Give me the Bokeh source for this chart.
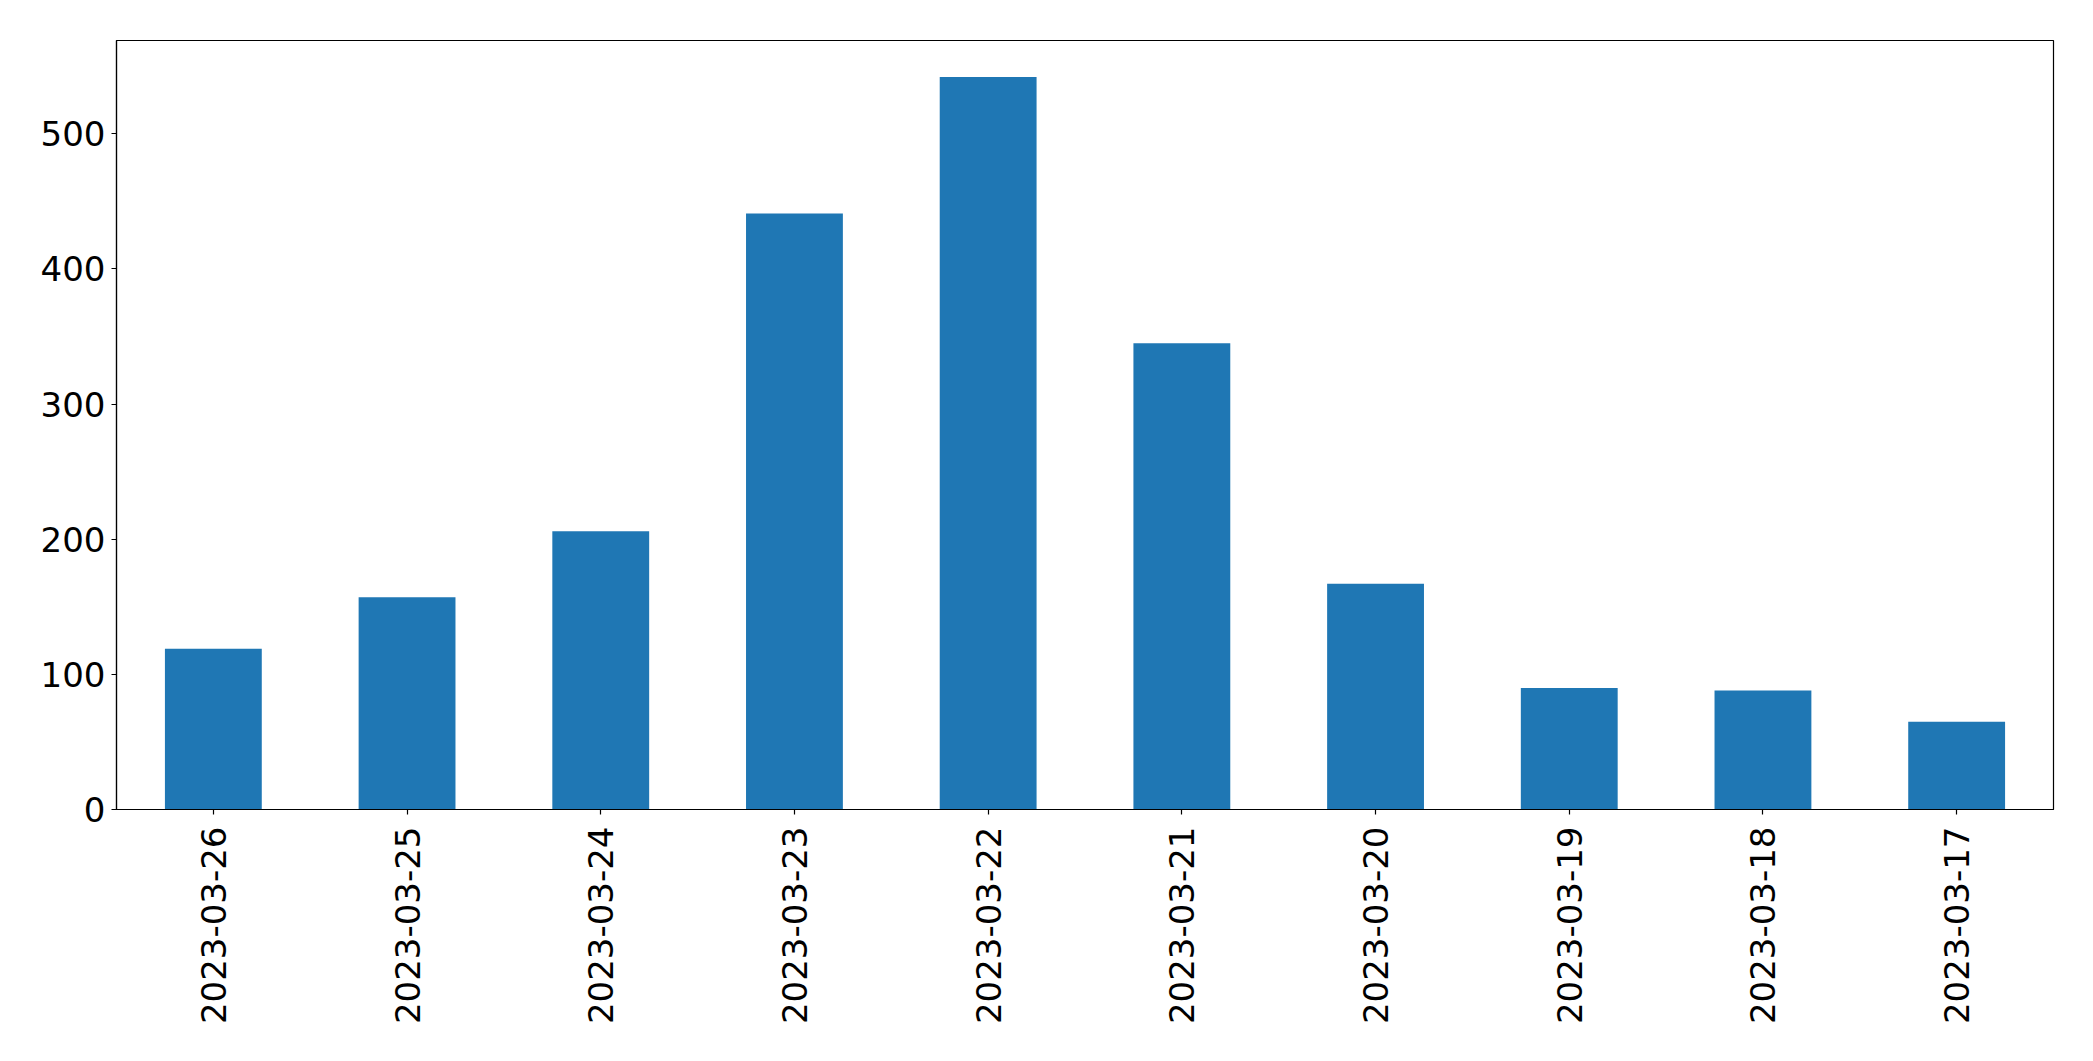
import math
from bokeh.plotting import figure
from bokeh.models import Range1d, FactorRange
from bokeh.embed import file_html
from bokeh.resources import INLINE

dates = ["2023-03-26", "2023-03-25", "2023-03-24", "2023-03-23", "2023-03-22",
         "2023-03-21", "2023-03-20", "2023-03-19", "2023-03-18", "2023-03-17"]
counts = [119, 157, 206, 441, 542, 345, 167, 90, 88, 65]
y_ticks = [0, 100, 200, 300, 400, 500]

p = figure(width=2077, height=1045, output_backend="svg", toolbar_location=None,
           x_range=FactorRange(factors=dates, range_padding=0),
           y_range=Range1d(0, max(counts) * 1.05),
           min_border_left=116, min_border_right=24, min_border_top=40, min_border_bottom=236)

p.vbar(x=dates, top=counts, width=0.5, fill_color="#1f77b4", line_color=None)

p.xgrid.visible = False
p.ygrid.visible = False
p.outline_line_color = "black"
p.outline_line_width = 1.2
p.background_fill_color = "white"
p.border_fill_color = "white"

for ax in (p.xaxis[0], p.yaxis[0]):
    ax.axis_line_color = "black"
    ax.axis_line_width = 1.2
    ax.major_tick_line_color = "black"
    ax.major_tick_line_width = 1.2
    ax.major_tick_out = 5
    ax.major_tick_in = 0
    ax.minor_tick_line_color = None
    ax.major_label_text_font = "DejaVu Sans"
    ax.major_label_text_font_size = "34px"
    ax.major_label_text_color = "black"

p.yaxis[0].ticker = y_ticks
p.yaxis[0].major_label_standoff = 6
p.xaxis[0].major_label_orientation = math.pi / 2
p.xaxis[0].major_label_standoff = 12

open("out.html", "w").write(file_html(p, INLINE))
